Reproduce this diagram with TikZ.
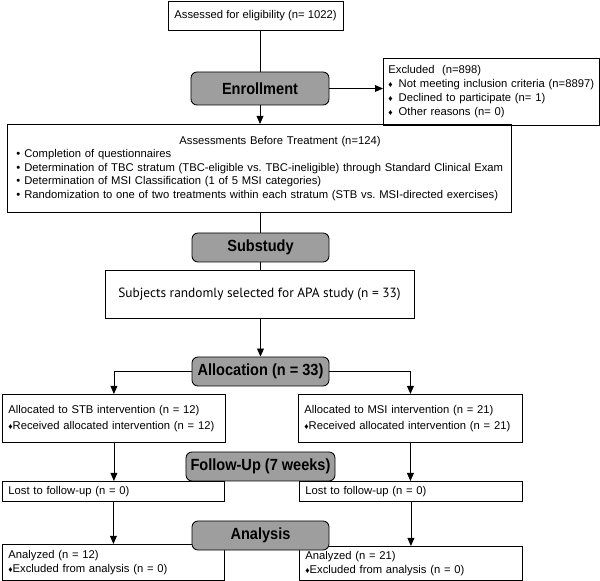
\documentclass[tikz,border=0pt]{standalone}
\usepackage{fontspec}
\setmainfont{Liberation Sans}
\newfontfamily\headfont[FakeStretch=0.9]{Liberation Sans}
\newfontfamily\subjfont{PT Sans}
\usetikzlibrary{arrows.meta}
\definecolor{boxgray}{RGB}{158,158,158}
\newcommand{\dmd}{{\fontsize{6}{6}\selectfont ♦}}
\frenchspacing
\tikzset{
	plain/.style={draw, line width=0.6pt, inner sep=0pt, font=\fontsize{8}{9.5}\selectfont},
	listbox/.style={plain, anchor=north west, align=left, inner xsep=1.5mm},
	stage/.style={draw, fill=boxgray, rounded corners=1.5mm, line width=0.6pt, inner sep=0pt, font=\headfont\bfseries\fontsize{11.5}{12}\selectfont},
	conn/.style={line width=0.6pt},
	arr/.style={-{Triangle[length=2mm, width=1.7mm]}, line width=0.6pt}
}

\begin{document}
\begin{tikzpicture}[x=0.25mm, y=-0.25mm]
	\useasboundingbox (0,0) rectangle (600,581);
	\node [plain, minimum width=43.75mm, minimum height=7.25mm] (elig) at (255.5,15.5) {Assessed for eligibility (n= 1022)};
	\node [stage, minimum width=34.5mm, minimum height=8.25mm] (enroll) at (260,88.5) {Enrollment};
	\node [listbox, text width=52.5mm, inner xsep=0.75mm, minimum height=16.75mm, font=\fontsize{8}{10}\selectfont] (excl) at (383,58) {\hspace*{0.5mm}Excluded\ \ (n=898)\\ \hspace*{0.5mm}\dmd\hspace{1.5mm}Not meeting inclusion criteria (n=8897)\\ \hspace*{0.5mm}\dmd\hspace{1.5mm}Declined to participate (n= 1)\\ \hspace*{0.5mm}\dmd\hspace{1.5mm}Other reasons (n= 0)};
	\node [listbox, text width=122.5mm, inner xsep=1.75mm, minimum height=22mm] (assess) at (7,124) {\hspace*{41.25mm}Assessments Before Treatment (n=124)\\ \hspace*{0.5mm}•\hspace{1mm}Completion of questionnaires\\ \mbox{\hspace*{0.5mm}•\hspace{1mm}Determination of TBC stratum (TBC-eligible vs. TBC-ineligible) through Standard Clinical Exam}\\ \hspace*{0.5mm}•\hspace{1mm}Determination of MSI Classification (1 of 5 MSI categories)\\ \mbox{\hspace*{0.5mm}•\hspace{1mm}Randomization to one of two treatments within each stratum (STB vs. MSI-directed exercises)}};
	\node [stage, minimum width=34.25mm, minimum height=7.25mm] (sub) at (260.5,247.5) {Substudy};
	\node [plain, minimum width=77.25mm, minimum height=12mm, font=\subjfont\fontsize{9.5}{11}\selectfont] (subj) at (259.5,294) {Subjects randomly selected for APA study (n = 33)};
	\node [stage, minimum width=34.25mm, minimum height=7.25mm] (alloc) at (260.5,371.5) {Allocation (n = 33)};
	\node [listbox, text width=52.75mm, minimum height=12mm, font=\fontsize{8}{11.5}\selectfont] (stb) at (2,394) {Allocated to STB intervention (n = 12)\\ \dmd Received allocated intervention (n = 12)};
	\node [listbox, text width=53mm, minimum height=12mm, font=\fontsize{8}{11.5}\selectfont] (msi) at (298,394) {Allocated to MSI intervention (n = 21)\\ \dmd Received allocated intervention (n = 21)};
	\node [listbox, text width=52.5mm, minimum height=5mm] (lostl) at (2,481) {Lost to follow-up (n = 0)};
	\node [listbox, text width=52.75mm, minimum height=5mm] (lostr) at (299,481) {Lost to follow-up (n = 0)};
	\node [stage, minimum width=37.25mm, minimum height=7.25mm] (follow) at (260.5,466.5) {Follow-Up (7 weeks)};
	\node [listbox, text width=52.5mm, minimum height=9mm, font=\fontsize{8}{10}\selectfont] (anl) at (2,544) {Analyzed (n = 12)\\ \dmd Excluded from analysis (n = 0)};
	\node [listbox, text width=52.75mm, minimum height=8.5mm, font=\fontsize{8}{10}\selectfont] (anr) at (299,546) {Analyzed (n = 21)\\ \dmd Excluded from analysis (n = 0)};
	\node [stage, minimum width=34.25mm, minimum height=7.25mm] (analysis) at (260.5,535.5) {Analysis};
	\draw [conn] (enroll.north |- elig.south) -- (enroll.north);
	\draw [arr] (enroll.south) -- (enroll.south |- assess.north);
	\draw [arr] (enroll.east) -- (enroll.east -| excl.west);
	\draw [conn] (sub.north |- assess.south) -- (sub.north);
	\draw [conn] (sub.south) -- (sub.south |- subj.north);
	\draw [arr] (alloc.north |- subj.south) -- (alloc.north);
	\draw [arr] (alloc.west) -| (stb.north);
	\draw [arr] (alloc.east) -| (msi.north);
	\draw [arr] (stb.south) -- (stb.south |- lostl.north);
	\draw [arr] (msi.south) -- (msi.south |- lostr.north);
	\draw [arr] (lostl.south) -- (lostl.south |- anl.north);
	\draw [arr] (lostr.south) -- (lostr.south |- anr.north);
\end{tikzpicture}
\end{document}
